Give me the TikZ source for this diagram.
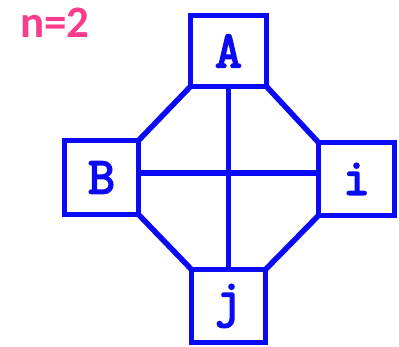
\documentclass[tikz,border=0pt]{standalone}
\usepackage{fontspec}
\newfontfamily\labfont{Carlito}
\definecolor{lineblue}{RGB}{10,10,245}
\definecolor{pinklab}{RGB}{250,60,140}
\newcommand\heavytext[1]{\special{pdf:literal direct 2 Tr 1.8 w}#1\special{pdf:literal direct 0 Tr}}
\begin{document}
\begin{tikzpicture}[x=1pt,y=-1pt,
  cell/.style={draw=lineblue,line width=5.5pt,rectangle,outer sep=0pt,inner sep=0pt,
    font=\ttfamily\fontsize{52}{52}\selectfont,text=lineblue},
  wire/.style={draw=lineblue,line width=5.5pt}]
\useasboundingbox (0,0) rectangle (399,347);
\node[cell,minimum width=76pt,minimum height=71pt] (A) at (228.5,51) {\heavytext{A}};
\node[cell,minimum width=74pt,minimum height=74pt] (B) at (101.5,177.5) {\heavytext{B}};
\node[cell,minimum width=76pt,minimum height=73pt] (i) at (356.5,179) {\heavytext{i}};
\node[cell,minimum width=74pt,minimum height=73pt] (j) at (228.5,306) {\heavytext{j}};
\coordinate (h) at (0,173);
\draw[wire] (A.south) -- (j.north);
\draw[wire] (B.east |- h) -- (i.west |- h);
\draw[wire] (A.south west) -- (B.north east);
\draw[wire] (A.south east) -- (i.north west);
\draw[wire] (B.south east) -- (j.north west);
\draw[wire] (i.south west) -- (j.north east);
\node[font=\labfont\bfseries\fontsize{45}{45}\selectfont,text=pinklab,inner sep=0pt,anchor=base west] (n) at (20,38) {n=2};
\end{tikzpicture}
\end{document}
